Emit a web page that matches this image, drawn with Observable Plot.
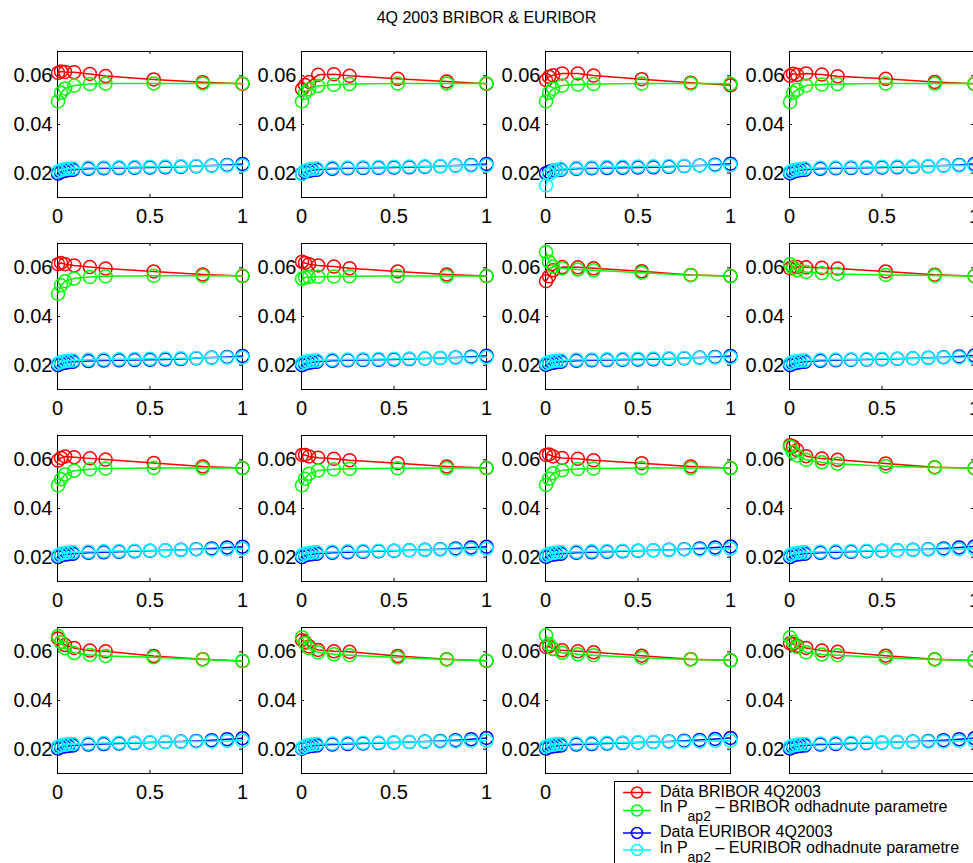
<!DOCTYPE html>
<html><head><meta charset="utf-8">
<script src="https://cdn.jsdelivr.net/npm/d3@7"></script>
<script src="https://cdn.jsdelivr.net/npm/@observablehq/plot@0.6"></script>
<style>
body{margin:0;background:#fff;}
#fig{position:relative;width:973px;height:863px;overflow:hidden;font-family:"Liberation Sans",Arial,Helvetica,sans-serif;background:#fff;}
#fig svg{max-width:none !important;background:transparent !important;overflow:visible;}
.panel{position:absolute;}
#title{position:absolute;left:0;width:973px;top:10px;text-align:center;font-size:16px;line-height:16px;color:#000;}
#legend{position:absolute;left:614px;top:781px;}
</style></head><body><div id="fig"><div id="title">4Q 2003 BRIBOR &amp; EURIBOR</div></div>
<script>
// maturities (years)
const xBribor = [0.003, 0.019, 0.041, 0.09, 0.175, 0.26, 0.52, 0.785, 1.0];
const xEuribor = [0.003, 0.019, 0.039, 0.058, 0.083, 0.167, 0.25, 0.333, 0.417, 0.5, 0.583, 0.667, 0.75, 0.833, 0.917, 1.0];
const xTicks = [0, 0.5, 1];
const yTicks = [0.02, 0.04, 0.06];
const seriesNames = ["Dáta BRIBOR 4Q2003", "BRIBOR odhadnute parametre", "Data EURIBOR 4Q2003", "EURIBOR odhadnute parametre"];
const seriesColors = ["#ff0000", "#00ff00", "#0000ff", "#00ffff"];

const briborData = [
  [0.0612, 0.0618, 0.0616, 0.0615, 0.0608, 0.0599, 0.0585, 0.0574, 0.0567],
  [0.0545, 0.0562, 0.0575, 0.0604, 0.0607, 0.0600, 0.0588, 0.0577, 0.0567],
  [0.0582, 0.0596, 0.0602, 0.0610, 0.0610, 0.0601, 0.0586, 0.0572, 0.0561],
  [0.0600, 0.0609, 0.0604, 0.0610, 0.0605, 0.0598, 0.0588, 0.0575, 0.0567],
  [0.0615, 0.0620, 0.0615, 0.0610, 0.0603, 0.0597, 0.0585, 0.0573, 0.0566],
  [0.0625, 0.0620, 0.0615, 0.0610, 0.0605, 0.0598, 0.0585, 0.0573, 0.0566],
  [0.0545, 0.0565, 0.0590, 0.0603, 0.0602, 0.0598, 0.0586, 0.0571, 0.0566],
  [0.0598, 0.0602, 0.0603, 0.0602, 0.0600, 0.0597, 0.0585, 0.0572, 0.0566],
  [0.0597, 0.0608, 0.0614, 0.0611, 0.0606, 0.0601, 0.0587, 0.0573, 0.0566],
  [0.0620, 0.0620, 0.0614, 0.0609, 0.0604, 0.0598, 0.0586, 0.0573, 0.0566],
  [0.0620, 0.0622, 0.0614, 0.0608, 0.0604, 0.0598, 0.0586, 0.0573, 0.0566],
  [0.0660, 0.0655, 0.0640, 0.0615, 0.0605, 0.0600, 0.0585, 0.0570, 0.0566],
  [0.0655, 0.0640, 0.0628, 0.0616, 0.0605, 0.0602, 0.0583, 0.0570, 0.0562],
  [0.0648, 0.0640, 0.0622, 0.0608, 0.0602, 0.0600, 0.0583, 0.0570, 0.0563],
  [0.0620, 0.0622, 0.0612, 0.0606, 0.0602, 0.0598, 0.0584, 0.0570, 0.0565],
  [0.0635, 0.0632, 0.0625, 0.0616, 0.0605, 0.0600, 0.0584, 0.0570, 0.0564]
];
const briborFit = [
  [0.0495, 0.0530, 0.0548, 0.0560, 0.0566, 0.0568, 0.0569, 0.0569, 0.0569],
  [0.0495, 0.0530, 0.0545, 0.0558, 0.0563, 0.0566, 0.0568, 0.0569, 0.0569],
  [0.0495, 0.0530, 0.0547, 0.0560, 0.0564, 0.0566, 0.0568, 0.0568, 0.0567],
  [0.0492, 0.0530, 0.0543, 0.0560, 0.0564, 0.0566, 0.0568, 0.0568, 0.0568],
  [0.0493, 0.0528, 0.0545, 0.0556, 0.0562, 0.0565, 0.0567, 0.0567, 0.0567],
  [0.0555, 0.0560, 0.0562, 0.0563, 0.0564, 0.0565, 0.0566, 0.0566, 0.0566],
  [0.0665, 0.0625, 0.0605, 0.0598, 0.0593, 0.0590, 0.0580, 0.0570, 0.0566],
  [0.0615, 0.0600, 0.0590, 0.0583, 0.0578, 0.0575, 0.0571, 0.0568, 0.0566],
  [0.0495, 0.0520, 0.0540, 0.0555, 0.0561, 0.0564, 0.0566, 0.0566, 0.0566],
  [0.0495, 0.0522, 0.0543, 0.0556, 0.0561, 0.0563, 0.0565, 0.0566, 0.0566],
  [0.0497, 0.0523, 0.0545, 0.0557, 0.0562, 0.0564, 0.0566, 0.0566, 0.0566],
  [0.0655, 0.0632, 0.0618, 0.0600, 0.0590, 0.0584, 0.0574, 0.0568, 0.0566],
  [0.0665, 0.0640, 0.0615, 0.0595, 0.0587, 0.0583, 0.0578, 0.0568, 0.0562],
  [0.0660, 0.0635, 0.0615, 0.0598, 0.0590, 0.0586, 0.0577, 0.0568, 0.0563],
  [0.0668, 0.0632, 0.0612, 0.0596, 0.0590, 0.0586, 0.0576, 0.0568, 0.0565],
  [0.0660, 0.0640, 0.0620, 0.0598, 0.0589, 0.0586, 0.0576, 0.0568, 0.0564]
];
const euriborData = [
  [0.0198, 0.0205, 0.0209, 0.0212, 0.0214, 0.0218, 0.0220, 0.0221, 0.0222, 0.0223, 0.0224, 0.0226, 0.0228, 0.0231, 0.0234, 0.0238],
  [0.0198, 0.0205, 0.0209, 0.0212, 0.0214, 0.0218, 0.0220, 0.0221, 0.0222, 0.0223, 0.0224, 0.0226, 0.0228, 0.0231, 0.0234, 0.0238],
  [0.0200, 0.0206, 0.0210, 0.0212, 0.0214, 0.0218, 0.0220, 0.0221, 0.0222, 0.0223, 0.0224, 0.0226, 0.0229, 0.0232, 0.0235, 0.0239],
  [0.0199, 0.0205, 0.0209, 0.0212, 0.0214, 0.0218, 0.0220, 0.0221, 0.0222, 0.0223, 0.0224, 0.0226, 0.0228, 0.0231, 0.0234, 0.0238],
  [0.0200, 0.0206, 0.0209, 0.0212, 0.0214, 0.0217, 0.0219, 0.0220, 0.0221, 0.0222, 0.0223, 0.0225, 0.0228, 0.0231, 0.0234, 0.0238],
  [0.0200, 0.0206, 0.0209, 0.0212, 0.0214, 0.0218, 0.0220, 0.0221, 0.0222, 0.0223, 0.0225, 0.0227, 0.0229, 0.0232, 0.0235, 0.0239],
  [0.0201, 0.0206, 0.0209, 0.0212, 0.0214, 0.0218, 0.0220, 0.0221, 0.0222, 0.0223, 0.0224, 0.0226, 0.0228, 0.0231, 0.0234, 0.0238],
  [0.0200, 0.0206, 0.0209, 0.0212, 0.0214, 0.0218, 0.0220, 0.0222, 0.0223, 0.0224, 0.0226, 0.0228, 0.0230, 0.0233, 0.0236, 0.0240],
  [0.0200, 0.0207, 0.0210, 0.0212, 0.0214, 0.0218, 0.0220, 0.0222, 0.0224, 0.0226, 0.0228, 0.0230, 0.0233, 0.0236, 0.0240, 0.0243],
  [0.0200, 0.0207, 0.0210, 0.0212, 0.0214, 0.0218, 0.0220, 0.0222, 0.0224, 0.0226, 0.0228, 0.0230, 0.0233, 0.0236, 0.0240, 0.0243],
  [0.0201, 0.0207, 0.0210, 0.0212, 0.0214, 0.0218, 0.0220, 0.0222, 0.0224, 0.0226, 0.0228, 0.0230, 0.0233, 0.0236, 0.0240, 0.0244],
  [0.0200, 0.0207, 0.0210, 0.0212, 0.0214, 0.0218, 0.0220, 0.0222, 0.0224, 0.0226, 0.0228, 0.0230, 0.0233, 0.0236, 0.0240, 0.0244],
  [0.0202, 0.0208, 0.0211, 0.0213, 0.0215, 0.0219, 0.0221, 0.0223, 0.0225, 0.0227, 0.0229, 0.0231, 0.0234, 0.0237, 0.0241, 0.0245],
  [0.0202, 0.0208, 0.0211, 0.0213, 0.0215, 0.0219, 0.0221, 0.0223, 0.0225, 0.0227, 0.0229, 0.0231, 0.0234, 0.0237, 0.0241, 0.0246],
  [0.0202, 0.0208, 0.0211, 0.0213, 0.0215, 0.0219, 0.0221, 0.0223, 0.0225, 0.0227, 0.0229, 0.0232, 0.0235, 0.0238, 0.0242, 0.0246],
  [0.0202, 0.0208, 0.0211, 0.0213, 0.0215, 0.0219, 0.0221, 0.0223, 0.0225, 0.0227, 0.0229, 0.0231, 0.0234, 0.0237, 0.0241, 0.0245]
];
const euriborFit = [
  [0.0207, 0.0213, 0.0216, 0.0218, 0.0219, 0.0222, 0.0223, 0.0224, 0.0225, 0.0226, 0.0227, 0.0228, 0.0229, 0.0230, 0.0231, 0.0232],
  [0.0196, 0.0210, 0.0215, 0.0217, 0.0219, 0.0222, 0.0223, 0.0224, 0.0225, 0.0226, 0.0227, 0.0228, 0.0229, 0.0230, 0.0231, 0.0232],
  [0.0150, 0.0195, 0.0208, 0.0214, 0.0217, 0.0221, 0.0223, 0.0225, 0.0226, 0.0227, 0.0228, 0.0229, 0.0230, 0.0231, 0.0232, 0.0233],
  [0.0205, 0.0212, 0.0215, 0.0217, 0.0219, 0.0222, 0.0223, 0.0224, 0.0225, 0.0226, 0.0227, 0.0228, 0.0229, 0.0230, 0.0231, 0.0232],
  [0.0207, 0.0213, 0.0216, 0.0218, 0.0219, 0.0222, 0.0223, 0.0224, 0.0225, 0.0226, 0.0227, 0.0228, 0.0229, 0.0230, 0.0231, 0.0232],
  [0.0207, 0.0213, 0.0216, 0.0218, 0.0219, 0.0222, 0.0223, 0.0224, 0.0225, 0.0226, 0.0227, 0.0228, 0.0229, 0.0230, 0.0232, 0.0233],
  [0.0207, 0.0213, 0.0216, 0.0218, 0.0219, 0.0222, 0.0223, 0.0224, 0.0225, 0.0226, 0.0227, 0.0228, 0.0229, 0.0230, 0.0231, 0.0232],
  [0.0207, 0.0213, 0.0216, 0.0218, 0.0219, 0.0222, 0.0223, 0.0224, 0.0225, 0.0226, 0.0227, 0.0228, 0.0229, 0.0231, 0.0232, 0.0233],
  [0.0208, 0.0214, 0.0217, 0.0219, 0.0220, 0.0222, 0.0224, 0.0225, 0.0226, 0.0227, 0.0228, 0.0229, 0.0231, 0.0232, 0.0233, 0.0235],
  [0.0208, 0.0214, 0.0217, 0.0219, 0.0220, 0.0222, 0.0224, 0.0225, 0.0226, 0.0227, 0.0228, 0.0229, 0.0231, 0.0232, 0.0233, 0.0235],
  [0.0208, 0.0214, 0.0217, 0.0219, 0.0220, 0.0222, 0.0224, 0.0225, 0.0226, 0.0227, 0.0228, 0.0229, 0.0231, 0.0232, 0.0233, 0.0235],
  [0.0208, 0.0214, 0.0217, 0.0219, 0.0220, 0.0222, 0.0224, 0.0225, 0.0226, 0.0227, 0.0228, 0.0229, 0.0231, 0.0232, 0.0233, 0.0235],
  [0.0210, 0.0215, 0.0218, 0.0220, 0.0221, 0.0223, 0.0225, 0.0226, 0.0227, 0.0228, 0.0229, 0.0230, 0.0231, 0.0232, 0.0234, 0.0235],
  [0.0205, 0.0213, 0.0217, 0.0219, 0.0221, 0.0223, 0.0225, 0.0226, 0.0227, 0.0228, 0.0229, 0.0230, 0.0231, 0.0233, 0.0234, 0.0235],
  [0.0210, 0.0215, 0.0218, 0.0220, 0.0221, 0.0223, 0.0225, 0.0226, 0.0227, 0.0228, 0.0229, 0.0230, 0.0231, 0.0232, 0.0234, 0.0235],
  [0.0210, 0.0215, 0.0218, 0.0220, 0.0221, 0.0223, 0.0225, 0.0226, 0.0227, 0.0228, 0.0229, 0.0230, 0.0231, 0.0232, 0.0234, 0.0235]
];

// layout
const colLeft = [57, 301, 545, 789];
const rowTop = [51, 243, 435, 627];
const boxW = 185, boxH = 146;
const ML = 60, MR = 22, MT = 12, MB = 42;
const FONT = '"Liberation Sans", Arial, Helvetica, sans-serif';
const legendLeft = 614;

const fig = document.getElementById("fig");

function toRows(xs, ys) { return xs.map((x, k) => ({x, y: ys[k]})); }

for (let i = 0; i < 16; i++) {
  const r = Math.floor(i / 4), c = i % 4;
  const sets = [
    toRows(xBribor, briborData[i]),
    toRows(xBribor, briborFit[i]),
    toRows(xEuribor, euriborData[i]),
    toRows(xEuribor, euriborFit[i])
  ];
  // tick labels of the bottom row that sit under the legend box are hidden by it
  const shownXTicks = r === 3 ? xTicks.filter(t => colLeft[c] + t * boxW + 8 < legendLeft) : xTicks;
  const tx = 3 / boxW, ty = 3 / boxH * 0.06;
  const plot = Plot.plot({
    width: ML + boxW + MR, height: MT + boxH + MB,
    marginLeft: ML, marginRight: MR, marginTop: MT, marginBottom: MB,
    style: {fontFamily: FONT, fontSize: "20px", background: "transparent", color: "#000", overflow: "visible"},
    x: {domain: [0, 1], label: null},
    y: {domain: [0.01, 0.07], label: null},
    marks: [
      Plot.frame({stroke: "#000", strokeWidth: 1}),
      Plot.ruleY(yTicks, {x1: 0, x2: tx, stroke: "#000"}),
      Plot.ruleY(yTicks, {x1: 1 - tx, x2: 1, stroke: "#000"}),
      Plot.ruleX(xTicks, {y1: 0.01, y2: 0.01 + ty, stroke: "#000"}),
      Plot.ruleX(xTicks, {y1: 0.07 - ty, y2: 0.07, stroke: "#000"}),
      ...sets.flatMap((d, k) => [
        Plot.line(d, {x: "x", y: "y", stroke: seriesColors[k], strokeWidth: 1.5}),
        Plot.dot(d, {x: "x", y: "y", r: 6.5, stroke: seriesColors[k], strokeWidth: 1.5, fill: "none"})
      ]),
      Plot.axisX({ticks: shownXTicks, tickSize: 0, tickPadding: 11, tickFormat: d => String(d), fontSize: 20, fill: "#000", label: null}),
      Plot.axisY({ticks: yTicks, tickSize: 0, tickPadding: 5, tickFormat: d3.format(".2f"), fontSize: 20, fill: "#000", label: null})
    ]
  });
  const div = document.createElement("div");
  div.className = "panel";
  div.style.left = (colLeft[c] - ML) + "px";
  div.style.top = (rowTop[r] - MT) + "px";
  div.style.width = (ML + boxW + MR) + "px";
  div.appendChild(plot);
  fig.appendChild(div);
}

// legend
const lg = d3.select(fig).append("svg").attr("id", "legend")
  .attr("width", 420).attr("height", 100).style("overflow", "visible");
lg.append("rect").attr("x", 0.5).attr("y", 0.5).attr("width", 420).attr("height", 120)
  .attr("fill", "#fff").attr("stroke", "#000").attr("stroke-width", 1);
const lineY = [11.5, 29.5, 52, 69];
const textY = [16.4, 31.4, 56.4, 72];
lineY.forEach((ly, k) => {
  lg.append("line").attr("x1", 9).attr("x2", 37).attr("y1", ly).attr("y2", ly)
    .attr("stroke", seriesColors[k]).attr("stroke-width", 1.5);
  lg.append("circle").attr("cx", 23).attr("cy", ly).attr("r", 5.5)
    .attr("fill", "none").attr("stroke", seriesColors[k]).attr("stroke-width", 1.5);
  const t = lg.append("text").attr("x", 46).attr("y", textY[k])
    .attr("font-family", FONT).attr("font-size", 16).attr("fill", "#000");
  if (k % 2 === 0) {
    t.text(seriesNames[k]);
  } else {
    t.append("tspan").text("ln P");
    t.append("tspan").attr("font-size", 14).attr("dy", 9).text("ap2");
    t.append("tspan").attr("font-size", 16).attr("dy", -9).text(" \u2013 " + seriesNames[k]);
  }
});
</script></body></html>
